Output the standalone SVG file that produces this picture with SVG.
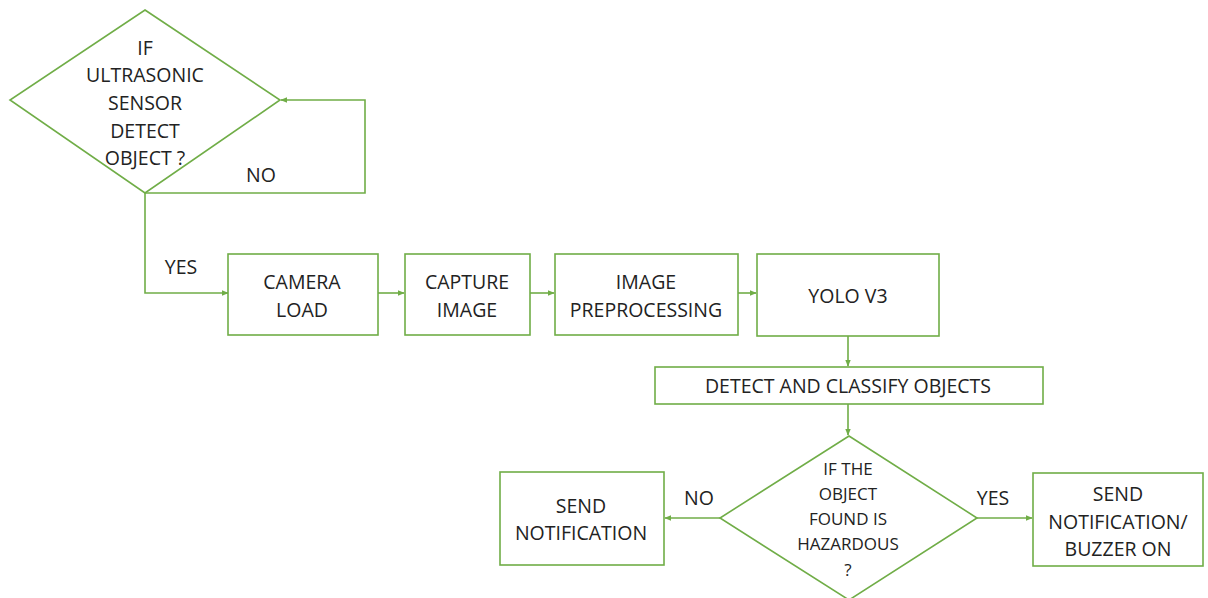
<svg xmlns="http://www.w3.org/2000/svg" width="1208" height="598" viewBox="0 0 1208 598">
<style>
.s{fill:#fff;stroke:#70AD47;stroke-width:1.6}
.c{fill:none;stroke:#70AD47;stroke-width:1.6}
text{font-family:"Open Sans","Liberation Sans",sans-serif;font-size:19.5px;fill:#222;text-anchor:middle;dominant-baseline:central}
.sm{font-size:17px}
</style>
<defs>
<marker id="a" viewBox="0 0 10 10" refX="9" refY="5" markerWidth="7" markerHeight="7" orient="auto" markerUnits="userSpaceOnUse">
<path d="M0,1 L10,5 L0,9 z" fill="#70AD47"/>
</marker>
</defs>
<rect width="1208" height="598" fill="#fff"/>
<g id="connectors">
<polyline class="c" points="145,193 365,193 365,100 281,100" marker-end="url(#a)"/>
<polyline class="c" points="145,193 145,293 228,293" marker-end="url(#a)"/>
<line class="c" x1="378" y1="293" x2="404" y2="293" marker-end="url(#a)"/>
<line class="c" x1="530" y1="293" x2="554" y2="293" marker-end="url(#a)"/>
<line class="c" x1="738" y1="293" x2="756" y2="293" marker-end="url(#a)"/>
<line class="c" x1="848" y1="336" x2="848" y2="366" marker-end="url(#a)"/>
<line class="c" x1="848" y1="404" x2="848" y2="435" marker-end="url(#a)"/>
<line class="c" x1="720" y1="518" x2="665" y2="518" marker-end="url(#a)"/>
<line class="c" x1="977" y1="518" x2="1032" y2="518" marker-end="url(#a)"/>
<text x="261" y="174">NO</text>
<text x="181" y="266">YES</text>
<text x="699" y="497">NO</text>
<text x="993" y="497">YES</text>
</g>
<g id="decision1">
<polygon class="s" points="145,10 280,100 145,193 10,100"/>
<text x="145" y="47">IF</text>
<text x="145" y="74">ULTRASONIC</text>
<text x="145" y="102">SENSOR</text>
<text x="145" y="130">DETECT</text>
<text x="145" y="157">OBJECT ?</text>
</g>
<g id="camera">
<rect class="s" x="228" y="254" width="150" height="81"/>
<text x="302" y="281">CAMERA</text>
<text x="302" y="309">LOAD</text>
</g>
<g id="capture">
<rect class="s" x="405" y="254" width="125" height="81"/>
<text x="467" y="281">CAPTURE</text>
<text x="467" y="309">IMAGE</text>
</g>
<g id="preprocessing">
<rect class="s" x="555" y="254" width="183" height="81"/>
<text x="646" y="281">IMAGE</text>
<text x="646" y="309">PREPROCESSING</text>
</g>
<g id="yolo">
<rect class="s" x="757" y="254" width="182" height="82"/>
<text x="848" y="295">YOLO V3</text>
</g>
<g id="detect">
<rect class="s" x="655" y="367" width="388" height="37"/>
<text x="848" y="385">DETECT AND CLASSIFY OBJECTS</text>
</g>
<g id="decision2">
<polygon class="s" points="849,436 977,518 849,600 720,518"/>
<text class="sm" x="848" y="468">IF THE</text>
<text class="sm" x="848" y="493">OBJECT</text>
<text class="sm" x="848" y="518">FOUND IS</text>
<text class="sm" x="848" y="543">HAZARDOUS</text>
<text class="sm" x="848" y="569">?</text>
</g>
<g id="send">
<rect class="s" x="500" y="472" width="164" height="93"/>
<text x="581" y="505">SEND</text>
<text x="581" y="532">NOTIFICATION</text>
</g>
<g id="buzzer">
<rect class="s" x="1033" y="473" width="170" height="93"/>
<text x="1118" y="493">SEND</text>
<text x="1118" y="521">NOTIFICATION/</text>
<text x="1118" y="548">BUZZER ON</text>
</g>
</svg>
